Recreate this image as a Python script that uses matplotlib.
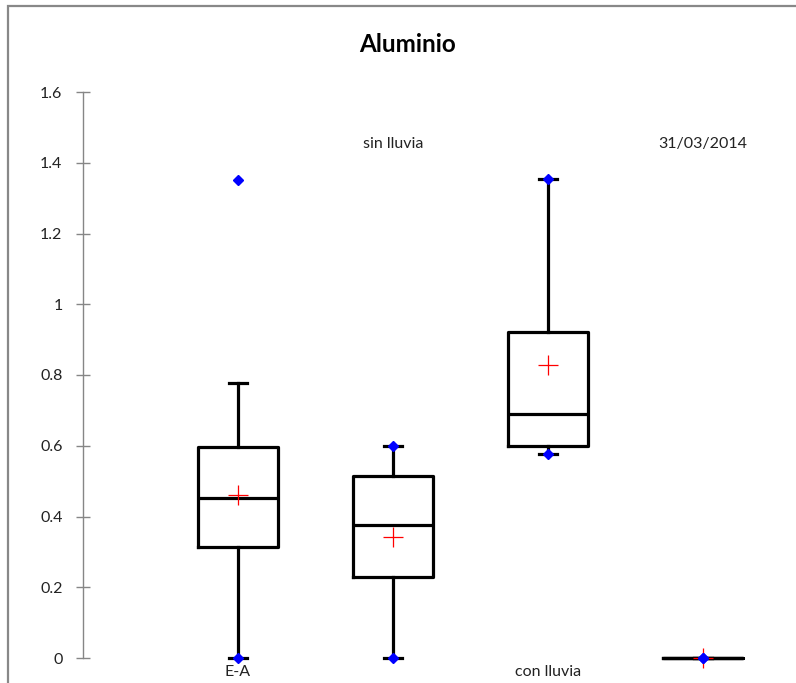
import matplotlib.pyplot as plt
from matplotlib.patches import Rectangle

# Aluminio - box statistics per group
groups = ["E-A", "sin lluvia", "con lluvia", "31/03/2014"]
q1 = [0.314, 0.229, 0.600, 0.0]
medians = [0.452, 0.376, 0.690, 0.0]
q3 = [0.596, 0.514, 0.921, 0.0]
whis_lo = [0.0, 0.0, 0.577, 0.0]
whis_hi = [0.777, 0.600, 1.354, 0.0]
means = [0.460, 0.342, 0.828, 0.0]
mins = [0.0, 0.0, 0.577, 0.0]
maxs = [1.351, 0.600, 1.354, 0.0]

plt.rcParams['font.family'] = ['Lato', 'DejaVu Sans']

W, H = 796, 683
fig = plt.figure(figsize=(W / 100, H / 100), dpi=100)

# chart border (left and top edges only show)
fig.patches.append(Rectangle((8 / W, -0.1), 1.2, (H - 6) / H + 0.1,
                             transform=fig.transFigure, fill=False,
                             edgecolor='#888888', linewidth=1.6))

x0, x1 = 83, 796
ax = fig.add_axes([x0 / W, (H - 658) / H, (x1 - x0) / W, 566 / H])
step = 155.0
positions = [1, 2, 3, 4]

stats = []
for i in range(len(groups)):
    stats.append(dict(med=medians[i], q1=q1[i], q3=q3[i],
                      whislo=whis_lo[i], whishi=whis_hi[i],
                      mean=means[i], fliers=[]))

lw = 2.3
parts = ax.bxp(stats, positions=positions, widths=0.51, showmeans=True,
               showfliers=False,
               boxprops=dict(color='black', linewidth=lw),
               medianprops=dict(color='black', linewidth=lw),
               whiskerprops=dict(color='black', linewidth=lw),
               capprops=dict(color='black', linewidth=lw),
               meanprops=dict(marker='+', markeredgecolor='red', markersize=15,
                              markeredgewidth=0.9, linestyle='none'),
               capwidths=0.12)
for key in parts:
    for artist in parts[key]:
        artist.set_clip_on(False)
for m in parts['means']:
    m.set_zorder(4)

# minimum / maximum
ax.plot(positions, mins, 'D', color='blue', markersize=5.5, linestyle='none', clip_on=False, zorder=5)
ax.plot(positions, maxs, 'D', color='blue', markersize=5.5, linestyle='none', clip_on=False, zorder=5)

ax.set_xlim(0, (x1 - x0) / step)
ax.set_ylim(0, 1.6)
ax.set_yticks([0, 0.2, 0.4, 0.6, 0.8, 1, 1.2, 1.4, 1.6])
ax.set_yticklabels(['0', '0.2', '0.4', '0.6', '0.8', '1', '1.2', '1.4', '1.6'])
ax.set_xticks([])
for side in ['top', 'right', 'bottom']:
    ax.spines[side].set_visible(False)
ax.spines['left'].set_color('#868686')
ax.spines['left'].set_linewidth(1.0)
ax.tick_params(axis='y', direction='inout', length=9.5, width=1.0,
               color='#868686', pad=10, labelsize=11.5, labelcolor='#222222')

# group labels
for i, name in enumerate(groups):
    if i % 2 == 0:
        ax.text(positions[i], -0.04, name, ha='center', va='center',
                fontsize=11.5, color='#222222', clip_on=False)
    else:
        ax.text(positions[i], 1.453, name, ha='center', va='center',
                fontsize=11.5, color='#222222')

fig.text(408 / W, 1 - 45 / H, "Aluminio", ha='center', va='center',
         fontsize=17.5, fontweight='bold')

fig.savefig('out.png', dpi=100)
